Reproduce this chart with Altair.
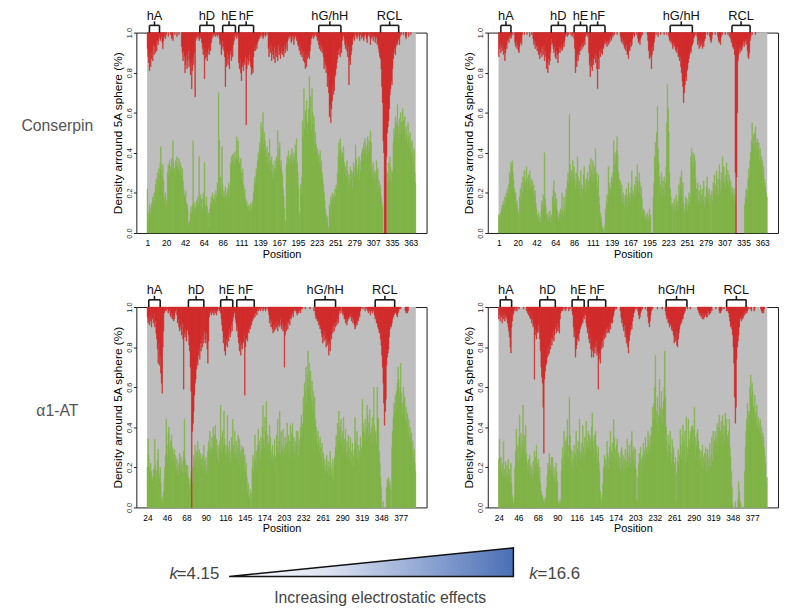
import altair as alt
import pandas as pd

N_POS = 400

# ---------------- data (values in % of the 0..1 axis) ----------------
# Conserpin, k = 4.15 (top-left)
cons_low_green = [
    22, 6, 10, 14, 12, 9, 15, 13, 18, 16, 20, 14, 24, 27, 22, 30, 26, 32, 29, 35,
    43, 31, 28, 34, 26, 18, 14, 20, 12, 16, 30, 34, 28, 36, 33, 30, 37, 31, 46, 35,
    32, 29, 36, 33, 38, 34, 31, 37, 30, 35, 33, 28, 32, 26, 22, 19, 17, 21, 15, 14,
    12, 4, 5, 6, 10, 13, 9, 14, 46, 11, 15, 9, 13, 16, 12, 18, 14, 38, 16, 19,
    13, 17, 12, 20, 16, 35, 14, 11, 18, 13, 8, 10, 3, 12, 15, 18, 14, 20, 17, 16,
    19, 15, 21, 18, 25, 20, 70, 46, 22, 28, 19, 43, 24, 18, 21, 17, 23, 19, 16, 22,
    20, 25, 18, 24, 35, 38, 33, 39, 36, 40, 34, 37, 41, 48, 36, 46, 38, 35, 33, 37,
    30, 26, 32, 24, 20, 22, 17, 14, 16, 13, 12, 14, 11, 13, 15, 12, 14, 16, 20, 24,
    28, 25, 32, 29, 36, 40, 38, 45, 42, 55, 48, 52, 60, 44, 50, 46, 41, 38, 43, 35,
    40, 33, 47, 36, 31, 38, 29, 34, 27, 32, 36, 30, 38, 34, 51, 37, 42, 45, 33, 36,
    31, 29, 22, 18, 12, 6, 0, 34, 38, 35, 41, 37, 33, 39, 36, 42, 34, 38, 40, 36,
    44, 39, 47, 35, 30, 22, 10, 0, 24, 19, 28, 56, 48, 72, 52, 61, 58, 66, 49, 55,
    62, 78, 57, 68, 51, 72, 60, 54, 58, 45, 50, 44, 40, 42, 37, 39, 35, 41, 32, 36,
    30, 27, 24, 20, 16, 12, 9, 5, 8, 3, 0, 14, 12, 18, 15, 20, 17, 19, 14, 22,
    18, 24, 21, 30, 38, 45, 40, 47, 42, 37, 40, 38, 43, 35, 30, 33, 28, 36, 31, 26,
    29, 24, 33, 27, 31, 22, 30, 35, 28, 33, 44, 37, 32, 29, 34, 38, 26, 31, 36, 40,
    42, 39, 45, 41, 47, 43, 38, 44, 48, 40, 46, 42, 51, 45, 33, 29, 35, 27, 31, 24,
    30, 36, 28, 32, 22, 26, 20, 24, 18, 15, 13, 0, 0, 0, 0, 0, 0, 30, 25, 35,
    28, 38, 33, 26, 31, 30, 45, 52, 48, 58, 50, 55, 64, 53, 47, 57, 50, 60, 55, 49,
    62, 56, 51, 58, 46, 53, 49, 44, 55, 48, 42, 50, 45, 39, 46, 40, 35, 42, 30, 25,
]
cons_low_red = [
    8, 12, 15, 19, 10, 17, 13, 9, 14, 6, 11, 7, 10, 5, 9, 4, 6, 3, 2, 4,
    3, 2, 5, 8, 4, 2, 0, 3, 1, 0, 0, 2, 0, 0, 1, 0, 3, 2, 4, 0,
    0, 1, 0, 0, 2, 0, 0, 1, 0, 0, 0, 7, 10, 14, 9, 12, 20, 16, 11, 18,
    14, 9, 17, 13, 21, 15, 28, 19, 12, 16, 10, 32, 4, 2, 3, 1, 2, 4, 3, 2,
    3, 5, 8, 11, 7, 23, 13, 9, 12, 14, 10, 8, 11, 6, 9, 5, 3, 1, 2, 0,
    1, 2, 0, 1, 2, 0, 1, 3, 6, 5, 11, 8, 4, 7, 9, 12, 27, 14, 17, 10,
    16, 13, 18, 11, 9, 14, 8, 12, 6, 4, 1, 2, 0, 3, 1, 2, 15, 18, 13, 20,
    24, 17, 15, 19, 14, 16, 12, 46, 18, 13, 16, 14, 11, 15, 17, 21, 18, 20, 12, 9,
    7, 9, 6, 8, 5, 4, 2, 3, 1, 2, 0, 1, 3, 2, 0, 1, 2, 0, 1, 0,
    8, 12, 7, 10, 5, 14, 9, 11, 13, 7, 15, 10, 12, 8, 14, 6, 11, 9, 13, 10,
    7, 11, 9, 12, 6, 10, 8, 5, 9, 4, 2, 3, 1, 2, 5, 4, 2, 1, 6, 3,
    1, 2, 4, 3, 6, 7, 9, 5, 11, 8, 12, 10, 14, 9, 15, 18, 11, 17, 13, 10,
    12, 13, 9, 6, 3, 2, 1, 3, 0, 2, 1, 0, 2, 4, 3, 6, 8, 5, 9, 7,
    10, 8, 12, 18, 14, 16, 20, 17, 27, 22, 30, 42, 36, 45, 38, 34, 26, 31, 29, 22,
    21, 18, 15, 13, 9, 11, 8, 12, 7, 10, 4, 2, 1, 3, 6, 8, 5, 9, 12, 7,
    26, 14, 16, 11, 9, 6, 3, 2, 4, 1, 0, 2, 3, 1, 0, 2, 4, 1, 0, 3,
    2, 1, 4, 2, 0, 1, 3, 5, 2, 1, 0, 2, 6, 3, 1, 2, 4, 1, 2, 5,
    3, 2, 6, 5, 8, 10, 12, 13, 18, 27, 35, 54, 60, 100, 100, 100, 62, 50, 47, 44,
    38, 31, 28, 24, 26, 18, 13, 10, 8, 11, 7, 5, 6, 4, 3, 6, 2, 0, 1, 0,
    0, 1, 0, 0, 2, 3, 1, 0, 0, 2, 0, 0, 1, 0, 0, 0, 0, 0, 0, 0,
]
# Conserpin, k = 16.6 (top-right)
cons_high_green = [
    9, 8, 10, 7, 12, 14, 11, 16, 13, 18, 15, 20, 17, 22, 19, 24, 30, 28, 35, 33,
    36, 30, 26, 22, 18, 20, 14, 16, 12, 10, 0, 18, 22, 16, 25, 20, 28, 23, 31, 26,
    24, 33, 27, 21, 29, 25, 31, 22, 27, 23, 26, 20, 24, 18, 21, 15, 12, 9, 7, 10,
    6, 8, 5, 11, 16, 14, 19, 12, 40, 17, 13, 9, 7, 10, 6, 8, 11, 5, 9, 7,
    18, 21, 26, 15, 20, 13, 17, 11, 8, 6, 10, 7, 12, 9, 20, 11, 8, 18, 13, 10,
    22, 18, 26, 30, 24, 59, 34, 28, 31, 25, 36, 29, 33, 27, 22, 30, 24, 38, 28, 21,
    26, 19, 31, 24, 17, 22, 29, 33, 25, 20, 27, 23, 30, 26, 21, 34, 28, 37, 31, 25,
    36, 29, 33, 27, 42, 30, 26, 22, 29, 18, 14, 10, 8, 5, 3, 0, 2, 0, 4, 12,
    16, 19, 14, 33, 18, 25, 22, 21, 28, 26, 30, 46, 34, 40, 36, 41, 48, 39, 30, 27,
    22, 26, 18, 24, 15, 20, 17, 13, 19, 16, 22, 12, 18, 25, 14, 20, 17, 23, 31, 19,
    21, 16, 24, 18, 28, 22, 34, 26, 20, 30, 25, 19, 23, 17, 10, 12, 8, 11, 6, 9,
    7, 10, 5, 8, 12, 6, 9, 0, 0, 0, 18, 25, 38, 45, 30, 50, 63, 42, 35, 28,
    24, 20, 30, 17, 26, 22, 28, 19, 25, 33, 55, 74, 62, 50, 30, 22, 18, 14, 0, 15,
    12, 17, 10, 14, 19, 11, 16, 13, 24, 19, 28, 22, 31, 18, 25, 15, 9, 12, 18, 14,
    17, 11, 15, 20, 13, 18, 38, 42, 35, 40, 33, 39, 36, 27, 22, 18, 25, 15, 21, 17,
    24, 14, 19, 22, 16, 26, 13, 18, 15, 23, 28, 20, 17, 22, 14, 19, 0, 21, 16, 25,
    20, 29, 24, 18, 31, 22, 27, 19, 34, 26, 21, 30, 23, 38, 27, 33, 25, 22, 29, 35,
    26, 31, 24, 29, 21, 26, 18, 23, 20, 17, 22, 19, 15, 0, 0, 0, 0, 0, 0, 0,
    0, 0, 0, 0, 0, 0, 14, 18, 22, 17, 21, 27, 32, 28, 36, 40, 46, 55, 44, 49,
    42, 50, 53, 45, 39, 47, 41, 45, 36, 42, 34, 38, 36, 30, 33, 27, 25, 23, 20, 18,
]
cons_high_red = [
    12, 8, 5, 10, 7, 9, 6, 11, 8, 14, 10, 6, 8, 4, 3, 5, 2, 1, 3, 2,
    0, 1, 0, 0, 5, 7, 4, 8, 6, 9, 10, 7, 5, 3, 6, 1, 0, 0, 1, 0,
    0, 0, 1, 0, 0, 0, 2, 0, 0, 1, 0, 3, 6, 4, 8, 5, 7, 9, 6, 11,
    9, 13, 10, 7, 12, 8, 11, 6, 14, 9, 12, 18, 15, 20, 13, 16, 14, 10, 3, 6,
    5, 8, 10, 7, 12, 13, 9, 11, 15, 10, 7, 10, 8, 6, 9, 8, 5, 7, 4, 2,
    1, 0, 2, 0, 1, 0, 0, 1, 0, 2, 1, 0, 3, 8, 20, 14, 17, 11, 14, 9,
    11, 7, 9, 6, 8, 5, 7, 4, 6, 2, 1, 0, 2, 1, 10, 16, 22, 14, 17, 19,
    12, 16, 13, 10, 15, 11, 18, 28, 13, 18, 9, 12, 8, 10, 11, 7, 8, 5, 6, 4,
    5, 7, 4, 6, 3, 5, 2, 4, 3, 1, 2, 0, 1, 0, 0, 0, 1, 0, 0, 0,
    0, 2, 4, 5, 3, 6, 4, 8, 7, 9, 6, 11, 10, 13, 8, 9, 5, 7, 6, 3,
    1, 0, 2, 0, 0, 1, 0, 3, 5, 4, 6, 3, 2, 0, 1, 0, 0, 0, 0, 0,
    0, 1, 4, 9, 13, 8, 12, 18, 11, 7, 9, 5, 3, 0, 1, 0, 0, 2, 0, 0,
    0, 1, 0, 0, 0, 0, 1, 0, 0, 0, 1, 0, 0, 2, 4, 3, 5, 4, 6, 8,
    5, 7, 6, 9, 8, 10, 7, 12, 11, 14, 12, 17, 20, 24, 27, 35, 30, 26, 22, 24,
    19, 18, 15, 13, 11, 9, 10, 7, 6, 5, 3, 2, 0, 1, 0, 2, 6, 4, 8, 5,
    7, 3, 6, 8, 5, 7, 4, 3, 1, 0, 0, 1, 0, 0, 2, 4, 5, 3, 1, 0,
    0, 0, 1, 0, 0, 0, 2, 4, 5, 3, 6, 2, 0, 1, 0, 0, 0, 1, 0, 0,
    0, 1, 0, 2, 0, 3, 5, 4, 7, 8, 6, 11, 70, 100, 72, 40, 14, 11, 8, 10,
    7, 9, 8, 6, 4, 7, 5, 4, 6, 3, 9, 12, 13, 10, 4, 2, 0, 1, 0, 0,
    0, 0, 1, 0, 0, 0, 0, 0, 0, 0, 0, 0, 0, 0, 0, 0, 0, 0, 0, 0,
]
# alpha1-AT, k = 4.15 (bottom-left)
a1at_low_green = [
    20, 34, 26, 20, 17, 22, 18, 15, 13, 19, 16, 34, 21, 14, 18, 24, 29, 17, 15, 20,
    12, 3, 5, 2, 8, 14, 20, 26, 44, 31, 25, 37, 40, 28, 33, 22, 36, 30, 27, 24,
    29, 21, 26, 18, 24, 20, 16, 22, 27, 19, 25, 21, 17, 23, 28, 44, 24, 18, 21, 17,
    21, 15, 12, 9, 14, 18, 4, 12, 20, 26, 22, 31, 24, 28, 19, 33, 25, 29, 22, 27,
    24, 20, 26, 18, 31, 23, 19, 25, 17, 21, 28, 33, 26, 38, 30, 27, 35, 29, 40, 32,
    36, 41, 28, 34, 25, 31, 22, 29, 33, 51, 27, 35, 38, 30, 48, 34, 26, 31, 28, 46,
    30, 25, 33, 28, 22, 35, 29, 44, 31, 26, 38, 27, 33, 24, 30, 36, 21, 34, 28, 25,
    31, 23, 29, 30, 20, 26, 18, 22, 15, 8, 12, 6, 4, 9, 0, 7, 20, 26, 18, 24,
    36, 22, 28, 19, 31, 39, 27, 33, 24, 35, 29, 40, 51, 34, 30, 45, 38, 53, 29, 36,
    32, 27, 41, 35, 28, 24, 31, 22, 26, 34, 19, 25, 36, 30, 44, 27, 33, 48, 26, 38,
    31, 28, 39, 24, 30, 35, 26, 32, 42, 29, 36, 25, 33, 41, 28, 37, 42, 30, 35, 27,
    33, 29, 38, 31, 38, 26, 34, 30, 40, 46, 35, 42, 55, 48, 62, 58, 70, 52, 66, 78,
    60, 72, 56, 68, 54, 63, 50, 58, 47, 55, 44, 40, 36, 31, 38, 33, 28, 35, 30, 25,
    32, 22, 27, 19, 24, 17, 21, 26, 18, 23, 15, 20, 28, 22, 16, 19, 24, 14, 21, 25,
    30, 36, 28, 42, 33, 48, 40, 35, 44, 31, 38, 27, 45, 34, 30, 39, 25, 33, 28, 36,
    30, 24, 35, 28, 22, 32, 26, 20, 29, 45, 33, 27, 38, 24, 31, 21, 28, 35, 25, 30,
    54, 42, 38, 36, 44, 33, 40, 51, 46, 35, 42, 49, 37, 31, 40, 45, 34, 60, 41, 36,
    38, 32, 60, 45, 44, 28, 22, 15, 10, 0, 0, 3, 0, 0, 0, 0, 10, 14, 12, 15,
    11, 13, 9, 0, 30, 38, 45, 52, 48, 56, 50, 58, 62, 70, 64, 55, 60, 72, 57, 46,
    52, 60, 48, 55, 44, 50, 41, 47, 38, 44, 35, 40, 32, 37, 28, 33, 25, 29, 22, 18,
]
a1at_low_red = [
    5, 8, 6, 9, 4, 7, 10, 5, 6, 8, 3, 10, 7, 13, 16, 21, 28, 18, 29, 24,
    33, 38, 43, 20, 12, 3, 2, 1, 2, 0, 1, 3, 2, 1, 4, 5, 3, 6, 4, 7,
    6, 3, 2, 1, 4, 8, 6, 10, 12, 9, 11, 14, 8, 16, 41, 13, 15, 11, 17, 12,
    11, 14, 19, 22, 30, 42, 100, 62, 58, 52, 44, 38, 36, 31, 27, 29, 24, 21, 26, 18,
    22, 16, 20, 14, 18, 12, 16, 18, 13, 21, 28, 17, 5, 3, 2, 4, 1, 3, 2, 4,
    1, 3, 2, 4, 2, 1, 0, 2, 1, 3, 6, 9, 12, 18, 15, 22, 24, 19, 16, 20,
    14, 17, 11, 15, 13, 9, 12, 7, 5, 3, 2, 6, 8, 12, 10, 15, 18, 22, 17, 24,
    19, 21, 17, 18, 14, 44, 20, 16, 15, 17, 12, 13, 10, 11, 8, 9, 7, 5, 6, 4,
    5, 3, 2, 4, 1, 2, 0, 1, 2, 0, 1, 0, 2, 1, 0, 1, 2, 0, 1, 0,
    2, 4, 8, 6, 10, 7, 11, 13, 9, 12, 8, 11, 10, 7, 12, 9, 8, 10, 6, 9,
    11, 8, 12, 10, 30, 14, 9, 12, 7, 11, 8, 6, 9, 5, 6, 4, 3, 5, 2, 1,
    2, 1, 3, 4, 2, 3, 1, 2, 3, 1, 0, 1, 0, 0, 0, 1, 0, 0, 0, 0,
    0, 0, 1, 0, 0, 0, 0, 0, 2, 0, 4, 6, 5, 7, 6, 9, 8, 11, 10, 13,
    15, 18, 14, 17, 12, 16, 20, 15, 19, 17, 24, 18, 22, 14, 16, 11, 13, 9, 12, 8,
    10, 7, 9, 6, 8, 4, 2, 1, 3, 0, 2, 4, 3, 6, 5, 8, 6, 9, 7, 5,
    6, 4, 5, 3, 7, 5, 8, 6, 9, 11, 10, 8, 9, 6, 7, 4, 5, 2, 1, 0,
    0, 1, 0, 0, 2, 0, 1, 0, 2, 3, 1, 2, 4, 2, 1, 3, 2, 1, 4, 6,
    5, 8, 8, 10, 11, 13, 12, 16, 19, 24, 30, 38, 48, 59, 52, 46, 29, 25, 23, 21,
    15, 11, 9, 10, 8, 6, 5, 4, 3, 3, 2, 4, 5, 3, 2, 1, 0, 1, 0, 0,
    0, 0, 0, 0, 2, 3, 2, 3, 2, 0, 0, 0, 0, 0, 0, 0, 0, 0, 0, 0,
]
# alpha1-AT, k = 16.6 (bottom-right)
a1at_high_green = [
    24, 34, 20, 25, 18, 22, 15, 33, 19, 14, 23, 17, 21, 16, 24, 13, 19, 15, 22, 12,
    6, 3, 2, 5, 20, 28, 39, 24, 31, 22, 35, 46, 30, 37, 26, 33, 51, 29, 36, 25,
    41, 27, 22, 18, 24, 20, 26, 16, 21, 19, 14, 23, 17, 28, 20, 25, 31, 22, 18, 24,
    15, 20, 12, 8, 5, 6, 3, 4, 2, 5, 4, 10, 16, 22, 18, 27, 21, 19, 25, 17,
    25, 14, 20, 16, 12, 22, 18, 13, 3, 2, 1, 4, 2, 18, 24, 30, 22, 38, 27, 33,
    26, 35, 44, 31, 25, 55, 36, 30, 22, 28, 19, 24, 31, 27, 26, 38, 21, 29, 33, 25,
    44, 28, 23, 32, 26, 41, 30, 22, 35, 27, 43, 33, 29, 38, 31, 36, 28, 34, 40, 47,
    33, 29, 36, 25, 38, 31, 27, 24, 30, 22, 18, 8, 4, 0, 6, 12, 20, 26, 18, 24,
    21, 33, 27, 19, 25, 30, 38, 23, 28, 32, 26, 44, 35, 29, 24, 31, 34, 22, 27, 20,
    25, 18, 28, 30, 21, 26, 17, 24, 29, 19, 23, 34, 27, 20, 31, 25, 22, 33, 38, 28,
    24, 30, 21, 29, 19, 4, 2, 15, 22, 27, 20, 30, 24, 18, 26, 32, 22, 28, 35, 25,
    30, 27, 38, 33, 28, 36, 31, 40, 35, 50, 44, 52, 60, 76, 48, 42, 55, 38, 46, 64,
    50, 45, 58, 41, 49, 53, 60, 78, 55, 40, 33, 28, 36, 25, 31, 38, 27, 22, 34, 26,
    30, 22, 19, 25, 3, 17, 23, 29, 21, 26, 39, 31, 24, 36, 41, 28, 33, 38, 22, 45,
    30, 26, 44, 34, 29, 38, 36, 40, 41, 32, 39, 50, 35, 25, 31, 37, 39, 33, 22, 29,
    24, 28, 20, 31, 25, 19, 27, 22, 30, 18, 26, 29, 21, 24, 32, 20, 26, 35, 23, 38,
    29, 33, 38, 27, 35, 42, 31, 40, 46, 34, 38, 43, 30, 46, 36, 41, 33, 47, 39, 44,
    36, 31, 38, 44, 30, 25, 18, 10, 2, 0, 0, 0, 3, 0, 0, 0, 4, 13, 8, 3,
    2, 0, 0, 0, 0, 0, 18, 30, 38, 44, 52, 41, 48, 46, 60, 66, 55, 62, 58, 50,
    50, 56, 47, 42, 51, 40, 45, 42, 38, 44, 36, 40, 33, 37, 35, 30, 26, 22, 12, 15,
]
a1at_high_red = [
    6, 4, 7, 3, 5, 8, 4, 6, 3, 7, 5, 4, 6, 8, 10, 12, 15, 20, 23, 10,
    7, 4, 3, 1, 2, 0, 1, 2, 0, 0, 1, 0, 0, 0, 0, 0, 0, 1, 0, 0,
    0, 2, 1, 3, 4, 2, 5, 6, 4, 8, 6, 10, 9, 36, 14, 11, 16, 12, 13, 9,
    12, 16, 22, 30, 35, 38, 50, 73, 36, 32, 29, 28, 25, 20, 24, 23, 18, 21, 15, 19,
    16, 12, 17, 14, 10, 11, 13, 8, 12, 10, 13, 6, 3, 2, 1, 2, 0, 1, 0, 2,
    0, 1, 0, 0, 2, 0, 1, 0, 0, 2, 4, 10, 15, 12, 25, 21, 19, 16, 14, 17,
    13, 11, 10, 9, 7, 8, 5, 6, 3, 4, 8, 10, 13, 11, 16, 18, 15, 21, 25, 20,
    22, 25, 19, 23, 20, 17, 24, 22, 41, 26, 23, 28, 19, 21, 17, 20, 14, 16, 12, 15,
    11, 13, 10, 12, 13, 9, 11, 7, 8, 8, 5, 4, 2, 1, 0, 1, 0, 0, 0, 0,
    0, 2, 5, 8, 6, 10, 12, 9, 15, 13, 18, 16, 20, 23, 17, 14, 12, 9, 11, 7,
    5, 3, 2, 1, 0, 1, 0, 2, 4, 6, 5, 3, 2, 0, 1, 0, 0, 0, 1, 0,
    0, 2, 5, 8, 10, 7, 4, 2, 0, 1, 0, 0, 0, 0, 0, 0, 1, 0, 0, 0,
    0, 0, 0, 1, 0, 0, 0, 0, 2, 4, 6, 5, 8, 7, 10, 9, 8, 11, 12, 10,
    14, 18, 15, 17, 12, 19, 20, 16, 13, 11, 9, 7, 8, 6, 6, 4, 3, 2, 1, 0,
    0, 1, 0, 0, 0, 1, 0, 0, 0, 0, 0, 0, 0, 0, 0, 0, 1, 2, 3, 4,
    3, 5, 4, 6, 3, 6, 5, 4, 3, 5, 5, 3, 2, 4, 3, 3, 1, 2, 0, 0,
    0, 0, 0, 1, 0, 0, 0, 0, 2, 3, 3, 2, 1, 0, 0, 1, 0, 0, 0, 2,
    2, 1, 3, 5, 7, 10, 9, 11, 14, 20, 28, 45, 58, 50, 26, 20, 17, 14, 10, 6,
    5, 7, 4, 6, 5, 3, 4, 2, 3, 3, 2, 1, 0, 0, 1, 0, 2, 0, 0, 0,
    2, 1, 0, 0, 0, 0, 0, 0, 0, 0, 1, 2, 3, 2, 3, 1, 0, 0, 0, 0,
]

# x-axis ticks (bar index) and their residue-number labels
cons_tick_idx = [1, 29, 57, 85, 113, 141, 169, 197, 225, 253, 281, 309, 337, 365, 393]
cons_tick_lab = ["1", "20", "42", "64", "86", "111", "139", "167", "195", "223",
                 "251", "279", "307", "335", "363"]
a1at_tick_idx = [1, 30, 59, 88, 117, 146, 175, 204, 233, 262, 291, 320, 349, 378]
a1at_tick_lab = ["24", "46", "68", "90", "116", "145", "174", "203", "232", "261",
                 "290", "319", "348", "377"]

# structural elements (bar index ranges)
element_names = ["hA", "hD", "hE", "hF", "hG/hH", "RCL"]
cons_el_start = [4, 79, 113, 137, 256, 348]
cons_el_end = [19, 100, 132, 159, 289, 375]
a1at_el_start = [3, 62, 110, 134, 250, 340]
a1at_el_end = [20, 85, 128, 160, 281, 369]

k_values = [4.15, 16.6]
k_texts = ["=4.15", "=16.6"]

# ---------------- styling ----------------
FONT = "Liberation Sans"
GREEN = "#7FB445"
RED = "#D42626"
GRAY = "#BEBEBE"
PW, PH = 294, 203
XPAD = 16


def label_expr(ticks, labels):
    arr_l = ",".join("'%s'" % s for s in labels)
    arr_t = ",".join(str(t) for t in ticks)
    return "[%s][indexof([%s], datum.value)]" % (arr_l, arr_t)


def panel(green, red, ticks, labels, el_start, el_end, row_label, label_dy=0):
    assert len(green) == N_POS, len(green)
    assert len(red) == N_POS, len(red)
    df = pd.DataFrame({
        "idx": list(range(1, N_POS + 1)),
        "g": [v / 100 for v in green],
        "r": [v / 100 for v in red],
    })
    xs = alt.Scale(domain=[0.5 - XPAD, N_POS + 0.5 + XPAD], nice=False, zero=False)
    ys = alt.Scale(domain=[0, 1], nice=False, zero=False)
    xaxis = alt.Axis(values=ticks, labelExpr=label_expr(ticks, labels), title="Position",
                     titleFontSize=11, titleFontWeight="normal", titleFont=FONT,
                     titleColor="black", labelFont=FONT, labelFontSize=8.5,
                     labelColor="black", ticks=False, domain=False, grid=False,
                     labelPadding=6, titlePadding=1, labelFlush=False, labelOverlap=False)
    yaxis = alt.Axis(values=[0, 0.2, 0.4, 0.6, 0.8, 1.0], format=".1f", labelAngle=270,
                     labelAlign="center", labelBaseline="bottom", labelFont=FONT,
                     labelFontSize=7.5, labelColor="#222", tickSize=3, tickColor="#222",
                     domain=False, grid=False, labelPadding=0,
                     title="Density arround 5A sphere (%)", titleFont=FONT,
                     titleFontSize=12, titleFontWeight="normal", titleColor="black",
                     titlePadding=1)

    bg = alt.Chart(pd.DataFrame({"a": [0.5], "b": [N_POS + 0.5], "y0": [0.0], "y1": [1.0]})).mark_rect(
        color=GRAY).encode(
        x=alt.X("a:Q", scale=xs, axis=xaxis), x2="b:Q",
        y=alt.Y("y0:Q", scale=ys, axis=yaxis), y2="y1:Q")

    gbars = alt.Chart(df).transform_filter("datum.g > 0").transform_calculate(
        x0="datum.idx - 0.5", x1="datum.idx + 0.5", z="0").mark_rect(
        color=GREEN, stroke=GREEN, strokeWidth=0.45).encode(
        x=alt.X("x0:Q", scale=xs, axis=xaxis), x2="x1:Q",
        y=alt.Y("g:Q", scale=ys, axis=yaxis), y2="z:Q")

    rbars = alt.Chart(df).transform_filter("datum.r > 0").transform_calculate(
        x0="datum.idx - 0.5", x1="datum.idx + 0.5", top="1 - datum.r", one="1").mark_rect(
        color=RED, stroke=RED, strokeWidth=0.45).encode(
        x=alt.X("x0:Q", scale=xs, axis=xaxis), x2="x1:Q",
        y=alt.Y("top:Q", scale=ys, axis=yaxis), y2="one:Q")

    bdf = pd.DataFrame({"name": element_names, "s": el_start, "e": el_end})
    bbase = alt.Chart(bdf).transform_calculate(
        mid="(datum.s + datum.e) / 2", yf="1.0", yb="1.036", yt="1.056", ytxt="1.065")
    bcol = "#1a1a1a"
    hline = bbase.mark_rule(color=bcol, strokeWidth=1.6).encode(
        x=alt.X("s:Q", scale=xs, axis=xaxis), x2="e:Q", y=alt.Y("yb:Q", scale=ys, axis=yaxis))
    lleg = bbase.mark_rule(color=bcol, strokeWidth=1.6).encode(
        x=alt.X("s:Q", scale=xs, axis=xaxis), y=alt.Y("yf:Q", scale=ys, axis=yaxis), y2="yb:Q")
    rleg = bbase.mark_rule(color=bcol, strokeWidth=1.6).encode(
        x=alt.X("e:Q", scale=xs, axis=xaxis), y=alt.Y("yf:Q", scale=ys, axis=yaxis), y2="yb:Q")
    ctick = bbase.mark_rule(color=bcol, strokeWidth=1.6).encode(
        x=alt.X("mid:Q", scale=xs, axis=xaxis), y=alt.Y("yb:Q", scale=ys, axis=yaxis), y2="yt:Q")
    btxt = bbase.mark_text(font=FONT, fontSize=13, color="#111", baseline="alphabetic").encode(
        x=alt.X("mid:Q", scale=xs, axis=xaxis), y=alt.Y("ytxt:Q", scale=ys, axis=yaxis),
        text="name:N")

    layers = [bg, gbars, rbars, hline, lleg, rleg, ctick, btxt]
    if row_label:
        lab = alt.Chart(pd.DataFrame({"t": [row_label]})).mark_text(
            font=FONT, fontSize=16, color="#555", align="center", baseline="middle").encode(
            x=alt.value(-80), y=alt.value(PH / 2 + label_dy), text="t:N")
        layers.append(lab)
    return alt.layer(*layers).properties(width=PW, height=PH)


tl = panel(cons_low_green, cons_low_red, cons_tick_idx, cons_tick_lab,
           cons_el_start, cons_el_end, "Conserpin", -7)
tr = panel(cons_high_green, cons_high_red, cons_tick_idx, cons_tick_lab,
           cons_el_start, cons_el_end, None)
bl = panel(a1at_low_green, a1at_low_red, a1at_tick_idx, a1at_tick_lab,
           a1at_el_start, a1at_el_end, "\u03b11-AT", 4)
br = panel(a1at_high_green, a1at_high_red, a1at_tick_idx, a1at_tick_lab,
           a1at_el_start, a1at_el_end, None)

# ---------------- bottom: electrostatic-effect wedge ----------------
# small view placed under the left column; the wedge and texts extend past it
LW, LH = PW, 10
kx = alt.Scale(domain=[0.086, 12.797], nice=False, zero=False)
ky = alt.Scale(domain=[-0.517, -0.172], nice=False, zero=False)
wedge_df = pd.DataFrame({"k": k_values, "e": [0.0, 1.0], "base": [0.0, 0.0]})
grad = alt.Gradient(gradient="linear",
                    stops=[alt.GradientStop(color="#ffffff", offset=0),
                           alt.GradientStop(color="#dce2f1", offset=0.35),
                           alt.GradientStop(color="#4a6fb6", offset=1)],
                    x1=0, x2=1, y1=0, y2=0)
wedge = alt.Chart(wedge_df).mark_area(fill=grad, stroke="#111", strokeWidth=1.5,
                                      interpolate="linear").encode(
    x=alt.X("k:Q", scale=kx, axis=None), y=alt.Y("e:Q", scale=ky, axis=None), y2="base:Q")

kdf = pd.DataFrame({"k": k_values, "t": k_texts, "z": [0.0, 0.0]})
kx_enc = alt.X("k:Q", scale=kx, axis=None)
ky_enc = alt.Y("z:Q", scale=ky, axis=None)
k_left_k = alt.Chart(kdf).transform_filter("datum.k < 10").mark_text(
    font=FONT, fontSize=17, fontStyle="italic", color="#444", align="right",
    baseline="alphabetic", dx=-52, dy=2).encode(x=kx_enc, y=ky_enc, text=alt.value("k"))
k_left_v = alt.Chart(kdf).transform_filter("datum.k < 10").mark_text(
    font=FONT, fontSize=17, color="#444", align="left",
    baseline="alphabetic", dx=-53, dy=2).encode(x=kx_enc, y=ky_enc, text="t:N")
k_right_k = alt.Chart(kdf).transform_filter("datum.k > 10").mark_text(
    font=FONT, fontSize=17, fontStyle="italic", color="#444", align="left",
    baseline="alphabetic", dx=16, dy=2).encode(x=kx_enc, y=ky_enc, text=alt.value("k"))
k_right_v = alt.Chart(kdf).transform_filter("datum.k > 10").mark_text(
    font=FONT, fontSize=17, color="#444", align="left",
    baseline="alphabetic", dx=24.5, dy=2).encode(x=kx_enc, y=ky_enc, text="t:N")
cap = alt.Chart(pd.DataFrame({"k0": [k_values[0]], "k1": [k_values[1]],
                              "t": ["Increasing electrostatic effects"]})).transform_calculate(
    km="(datum.k0 + datum.k1) / 2", z="0").mark_text(
    font=FONT, fontSize=16, color="#444", align="center", baseline="alphabetic",
    dx=9, dy=27).encode(x=alt.X("km:Q", scale=kx, axis=None),
                        y=alt.Y("z:Q", scale=ky, axis=None), text="t:N")

legend = alt.layer(wedge, k_left_k, k_left_v, k_right_k, k_right_v, cap).properties(
    width=LW, height=LH, view=alt.ViewConfig(stroke="transparent"))

chart = alt.concat(tl, tr, bl, br, legend, columns=2,
                   spacing={"row": 75, "column": 62}, bounds="flush").properties(
    padding={"left": 13, "top": -3, "right": 0, "bottom": 0}
).configure_view(stroke="#1a1a1a", strokeWidth=1)

chart.save("out.html", embed_options={"renderer": "svg", "actions": False})
